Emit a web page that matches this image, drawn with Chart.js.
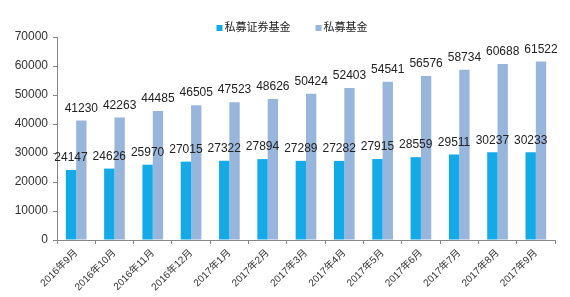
<!DOCTYPE html>
<html><head><meta charset="utf-8">
<script src="https://cdn.jsdelivr.net/npm/chart.js@4/dist/chart.umd.min.js"></script>
<style>html,body{margin:0;padding:0;background:#fff;}#wrap{width:570px;height:297px;}</style>
</head><body><div id="wrap"><canvas id="c" width="570" height="297"></canvas></div>
<script>
const categories = ["2016年9月","2016年10月","2016年11月","2016年12月","2017年1月","2017年2月","2017年3月","2017年4月","2017年5月","2017年6月","2017年7月","2017年8月","2017年9月"];
const securitiesFund = [24147,24626,25970,27015,27322,27894,27289,27282,27915,28559,29511,30237,30233];
const privateFund = [41230,42263,44485,46505,47523,48626,50424,52403,54541,56576,58734,60688,61522];
const seriesNames = ["私募证券基金","私募基金"];
const yTicks = [0,10000,20000,30000,40000,50000,60000,70000];

const FONT = "'Liberation Sans','Noto Sans CJK SC',sans-serif";
const labelPlugin = {
  id: 'vlabels',
  afterDatasetsDraw(chart) {
    const ctx = chart.ctx;
    ctx.save();
    ctx.font = "12px " + FONT;
    ctx.fillStyle = "#222";
    ctx.textAlign = "center";
    ctx.textBaseline = "bottom";
    chart.data.datasets.forEach((ds, di) => {
      const meta = chart.getDatasetMeta(di);
      meta.data.forEach((bar, i) => {
        ctx.fillText(String(ds.data[i]), bar.x, bar.y - 6);
      });
    });
    ctx.restore();
  }
};

// legend drawn from the dataset labels/colours
const legendPlugin = {
  id: 'topLegend',
  afterDraw(chart) {
    const ctx = chart.ctx;
    ctx.save();
    ctx.font = "11px " + FONT;
    ctx.textBaseline = "middle";
    ctx.textAlign = "left";
    const y = 28, box = 6, boxGap = 2, itemGap = 25;
    const items = chart.data.datasets.map(ds => ({ text: ds.label, color: ds.backgroundColor, w: ctx.measureText(ds.label).width }));
    const total = items.reduce((s, it) => s + box + boxGap + it.w, 0) + itemGap * (items.length - 1);
    let x = 292 - total / 2;
    items.forEach(it => {
      ctx.fillStyle = it.color;
      ctx.fillRect(x, y - box / 2, box, box);
      x += box + boxGap;
      ctx.fillStyle = "#222";
      ctx.fillText(it.text, x, y);
      x += it.w + itemGap;
    });
    ctx.restore();
  }
};

new Chart(document.getElementById('c'), {
  type: 'bar',
  data: {
    labels: categories,
    datasets: [
      { label: seriesNames[0], data: securitiesFund, backgroundColor: '#14AAE8', categoryPercentage: 0.54, barPercentage: 1.0 },
      { label: seriesNames[1], data: privateFund, backgroundColor: '#98B5DC', categoryPercentage: 0.54, barPercentage: 1.0 }
    ]
  },
  options: {
    responsive: false,
    animation: false,
    devicePixelRatio: 1,
    layout: { padding: { left: 14, right: 0, top: 37, bottom: 0 } },
    plugins: {
      legend: { display: false },
      tooltip: { enabled: false }
    },
    scales: {
      x: {
        afterFit(axis) { axis.height = 57; },
        grid: { display: true, drawOnChartArea: false, drawTicks: true, tickLength: 4, color: '#888', offset: true },
        border: { color: '#888' },
        ticks: { maxRotation: 45, minRotation: 45, font: { size: 10, family: FONT }, color: '#333', padding: 3, autoSkip: false }
      },
      y: {
        min: 0, max: 70000,
        afterFit(axis) { axis.width = 43; },
        afterBuildTicks(axis) { axis.ticks = yTicks.map(v => ({ value: v })); },
        grid: { display: true, drawOnChartArea: false, tickLength: 4, color: '#888' },
        border: { color: '#888' },
        ticks: { font: { size: 12, family: FONT }, color: '#333', padding: 5, callback: v => String(v) }
      },
      yRight: {
        position: 'right',
        min: 0, max: 70000,
        afterFit(axis) { axis.width = 15; },
        grid: { display: false },
        border: { display: false },
        ticks: { display: false }
      }
    }
  },
  plugins: [labelPlugin, legendPlugin]
});
</script></body></html>
